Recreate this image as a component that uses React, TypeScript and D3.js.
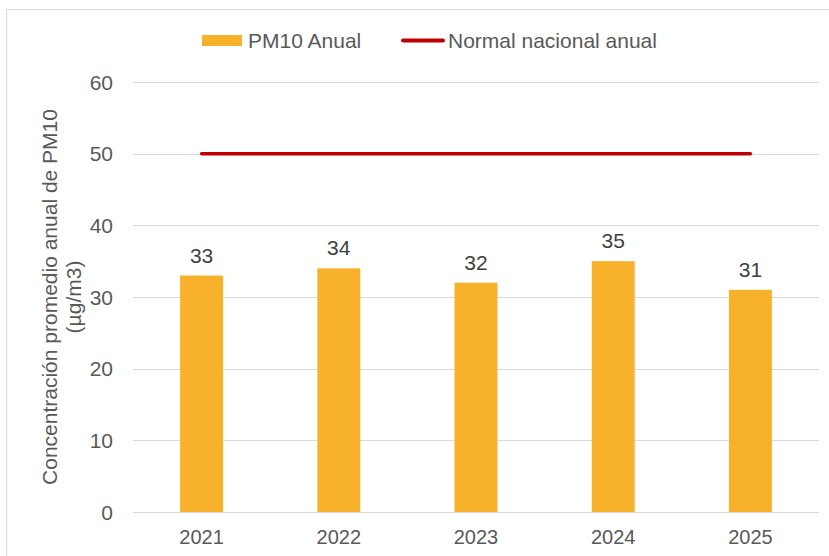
import React, { useEffect, useRef } from 'react';
import * as d3 from 'd3';

const years = ['2021', '2022', '2023', '2024', '2025'];
const pm10Values = [33, 34, 32, 35, 31];
const normaValues = [50, 50, 50, 50, 50];
const yTicks = [0, 10, 20, 30, 40, 50, 60];

export default function App() {
  const ref = useRef<SVGSVGElement>(null);

  useEffect(() => {
    if (!ref.current) return;
    const svg = d3.select(ref.current);
    svg.selectAll('*').remove();

    const W = 829, H = 556;
    const left = 133, right = 819, top = 82, bottom = 512;
    const font = 'Liberation Sans, Arial, sans-serif';
    const textColor = '#595959';

    // outer chart frame
    svg.append('rect')
      .attr('x', 6.5).attr('y', 9.5)
      .attr('width', W).attr('height', H)
      .attr('fill', '#fff').attr('stroke', '#d9d9d9').attr('stroke-width', 1);

    const x = d3.scaleBand().domain(years).range([left, right]);
    const y = d3.scaleLinear().domain([0, 60]).range([bottom, top]);
    const barW = x.bandwidth() * 0.313;

    // gridlines
    svg.append('g').selectAll('line').data(yTicks).enter().append('line')
      .attr('x1', left).attr('x2', right)
      .attr('y1', d => Math.round(y(d)) + 0.5).attr('y2', d => Math.round(y(d)) + 0.5)
      .attr('stroke', '#d9d9d9').attr('stroke-width', 1);

    // y tick labels
    svg.append('g').selectAll('text').data(yTicks).enter().append('text')
      .attr('x', 113).attr('y', d => y(d) + 7.5)
      .attr('text-anchor', 'end')
      .attr('font-family', font).attr('font-size', 21).attr('fill', textColor)
      .text(d => d);

    // bars
    svg.append('g').selectAll('rect').data(pm10Values).enter().append('rect')
      .attr('x', (d, i) => (x(years[i]) || 0) + x.bandwidth() / 2 - barW / 2)
      .attr('y', d => y(d))
      .attr('width', barW)
      .attr('height', d => bottom - y(d))
      .attr('fill', '#f7b12b');

    // bar value labels
    svg.append('g').selectAll('text').data(pm10Values).enter().append('text')
      .attr('x', (d, i) => (x(years[i]) || 0) + x.bandwidth() / 2)
      .attr('y', d => y(d) - 13)
      .attr('text-anchor', 'middle')
      .attr('font-family', font).attr('font-size', 21).attr('fill', '#404040')
      .text(d => d);

    // national norm line
    const line = d3.line<number>()
      .x((d, i) => (x(years[i]) || 0) + x.bandwidth() / 2)
      .y(d => y(d));
    svg.append('path')
      .attr('d', line(normaValues) || '')
      .attr('fill', 'none').attr('stroke', '#c00000')
      .attr('stroke-width', 3.5).attr('stroke-linecap', 'round');

    // x labels
    svg.append('g').selectAll('text').data(years).enter().append('text')
      .attr('x', d => (x(d) || 0) + x.bandwidth() / 2)
      .attr('y', 544)
      .attr('text-anchor', 'middle')
      .attr('font-family', font).attr('font-size', 20).attr('fill', textColor)
      .text(d => d);

    // y axis title
    const title = svg.append('text')
      .attr('transform', `translate(57,${(top + bottom) / 2}) rotate(-90)`)
      .attr('text-anchor', 'middle')
      .attr('font-family', font).attr('font-size', 21).attr('fill', textColor);
    title.append('tspan').attr('x', 0).attr('dy', 0).text('Concentración promedio anual de PM10');
    title.append('tspan').attr('x', 0).attr('dy', 24).text('(µg/m3)');

    // legend
    const lg = svg.append('g');
    lg.append('rect').attr('x', 202).attr('y', 35).attr('width', 40).attr('height', 11).attr('fill', '#f7b12b');
    lg.append('text').attr('x', 248).attr('y', 48)
      .attr('font-family', font).attr('font-size', 21).attr('fill', textColor).text('PM10 Anual');
    lg.append('line').attr('x1', 403).attr('x2', 443).attr('y1', 40.5).attr('y2', 40.5)
      .attr('stroke', '#c00000').attr('stroke-width', 4).attr('stroke-linecap', 'round');
    lg.append('text').attr('x', 448).attr('y', 48)
      .attr('font-family', font).attr('font-size', 21).attr('fill', textColor).text('Normal nacional anual');
  }, []);

  return (
    <svg ref={ref} width={829} height={556}
      style={{ position: 'absolute', left: 0, top: 0, background: '#fff' }} />
  );
}
